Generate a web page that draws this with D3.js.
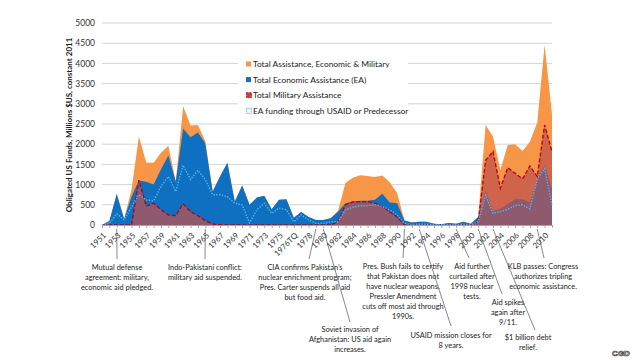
<!DOCTYPE html>
<html>
<head>
<meta charset="utf-8">
<script src="https://cdn.jsdelivr.net/npm/d3@7"></script>
<style>
  html, body { margin: 0; padding: 0; background: #fff; }
  svg { display: block; font-family: Lato, "Open Sans", sans-serif; }
</style>
</head>
<body>
<svg id="chart" width="640" height="360"></svg>
<script>
// fiscal years, incl. the 1976 transition quarter
const categories = [
  "1951","1952","1953","1954","1955","1956","1957","1958","1959","1960",
  "1961","1962","1963","1964","1965","1966","1967","1968","1969","1970",
  "1971","1972","1973","1974","1975","1976","1976TQ","1977","1978","1979",
  "1980","1981","1982","1983","1984","1985","1986","1987","1988","1989",
  "1990","1991","1992","1993","1994","1995","1996","1997","1998","1999",
  "2000","2001","2002","2003","2004","2005","2006","2007","2008","2009",
  "2010","2011"
];

// millions $US, constant 2011
const totalAssist = [
  0, 100, 770, 150, 870, 2190, 1550, 1540, 1790, 1960,
  1080, 2940, 2460, 2475, 2080, 830, 1200, 1540, 580, 980,
  500, 680, 725, 390, 625, 640, 180, 320, 200, 125,
  125, 170, 350, 1040, 1170, 1230, 1210, 1190, 1225, 1060,
  790, 110, 60, 80, 80, 30, 20, 50, 30, 80,
  30, 200, 2475, 2190, 1360, 1980, 2000, 1830, 2060, 2540,
  4455, 2750
];
const econAssist = [
  0, 100, 770, 150, 700, 1100, 1070, 1000, 1380, 1720,
  1070, 2390, 2170, 2290, 2020, 830, 1200, 1540, 580, 980,
  500, 680, 725, 390, 625, 640, 180, 320, 200, 125,
  125, 170, 330, 540, 580, 600, 600, 625, 775, 560,
  540, 110, 60, 80, 80, 30, 20, 50, 30, 80,
  30, 200, 850, 350, 400, 520, 640, 640, 560, 1150,
  1480, 900
];
const milAssist = [
  0, 0, 0, 0, 0, 1110, 470, 540, 380, 250,
  230, 525, 330, 230, 110, 25, 10, 0, 0, 0,
  0, 0, 0, 0, 0, 0, 0, 0, 0, 0,
  0, 0, 80, 500, 570, 580, 580, 540, 460, 330,
  200, 0, 0, 0, 0, 0, 0, 0, 0, 0,
  0, 80, 1600, 1820, 910, 1420, 1280, 1140, 1460, 1200,
  2475, 1815
];
const usaidEA = [
  0, 40, 280, 130, 450, 750, 620, 600, 960, 1200,
  830, 1480, 1125, 1350, 1125, 750, 750, 700, 540, 500,
  50, 375, 540, 290, 420, 375, 80, 250, 125, 40,
  40, 80, 80, 375, 440, 475, 480, 500, 460, 375,
  250, 40, 10, 20, 20, 10, 5, 10, 10, 20,
  10, 80, 740, 290, 330, 390, 480, 500, 400, 1140,
  1400, 500
];

const yTicks = [0, 500, 1000, 1500, 2000, 2500, 3000, 3500, 4000, 4500, 5000];
const seriesNames = [
  "Total Assistance, Economic & Military",
  "Total Economic Assistance (EA)",
  "Total Military Assistance",
  "EA funding through USAID or Predecessor"
];

// annotations: year pointed at, text lines
const notes = [
  { year: "1953", lines: ["Mutual defense", "agreement: military,", "economic aid pledged."] },
  { year: "1965", lines: ["Indo-Pakistani conflict:", "military aid suspended."] },
  { year: "1979", lines: ["CIA confirms Pakistan\u2019s", "nuclear enrichment program;", "Pres. Carter suspends all aid", "but food aid."] },
  { year: "1980", lines: ["Soviet invasion of", "Afghanistan: US aid again", "increases."] },
  { year: "1991", lines: ["Pres. Bush fails to certify", "that Pakistan does not", "have nuclear weapons.", "Pressler Amendment", "cuts off most aid through", "1990s."] },
  { year: "1993", lines: ["USAID mission closes for", "8 years."] },
  { year: "1998", lines: ["Aid further", "curtailed after", "1998 nuclear", "tests."] },
  { year: "2001", lines: ["Aid spikes", "again after", "9/11."] },
  { year: "2003", lines: ["$1 billion debt", "relief."] },
  { year: "2009", lines: ["KLB passes: Congress", "authorizes tripling", "economic assistance."] }
];
// where each note's text sits (centre x, first line y) and where its leader ends
const noteLayout = [
  { tx: 117, ty: 270, lx: 117, ly: 259 },
  { tx: 205, ty: 270, lx: 205, ly: 259 },
  { tx: 305, ty: 270, lx: 309, ly: 259 },
  { tx: 350, ty: 332, lx: 350, ly: 322 },
  { tx: 403, ty: 269, lx: 403, ly: 258 },
  { tx: 451, ty: 338, lx: 451, ly: 326 },
  { tx: 472, ty: 269, lx: 469, ly: 258 },
  { tx: 508, ty: 305, lx: 502, ly: 294 },
  { tx: 528, ty: 340, lx: 535, ly: 330 },
  { tx: 543, ty: 269, lx: 544, ly: 258 }
];

const svg = d3.select("#chart");

const x = d3.scalePoint().domain(categories).range([102, 552]);
const y = d3.scaleLinear().domain([0, 5000]).range([225, 23]);

// gridlines
svg.append("g")
  .selectAll("line")
  .data(yTicks.filter(d => d > 0))
  .join("line")
  .attr("x1", 102).attr("x2", 552)
  .attr("y1", d => y(d)).attr("y2", d => y(d))
  .attr("stroke", "#d4d4d4")
  .attr("stroke-width", 1);

// legend background hides the gridlines behind it
svg.append("rect")
  .attr("x", 238).attr("y", 51)
  .attr("width", 170).attr("height", 67)
  .attr("fill", "#fff");

function areaOf(values) {
  return d3.area()
    .x((d, i) => x(categories[i]))
    .y0(y(0))
    .y1(d => y(d))(values);
}
function lineOf(values) {
  return d3.line()
    .x((d, i) => x(categories[i]))
    .y(d => y(d))(values);
}

const plot = svg.append("g");
plot.append("path").attr("d", areaOf(totalAssist)).attr("fill", "#F79646");
plot.append("path").attr("d", areaOf(econAssist)).attr("fill", "#0F6FC0");
plot.append("path").attr("d", areaOf(milAssist)).attr("fill", "#C0504D").attr("fill-opacity", 0.72);
plot.append("path").attr("d", lineOf(milAssist))
  .attr("fill", "none")
  .attr("stroke", "#B00018")
  .attr("stroke-width", 1.3)
  .attr("stroke-dasharray", "4,2");
plot.append("path").attr("d", lineOf(usaidEA))
  .attr("fill", "none")
  .attr("stroke", "#4FB8EC")
  .attr("stroke-width", 1.4)
  .attr("stroke-dasharray", "1.4,1.4");

// x axis
const xAxis = svg.append("g")
  .attr("transform", `translate(0,${y(0)})`)
  .call(d3.axisBottom(x).tickSize(3).tickFormat((d, i) => i % 2 === 0 ? d : ""));
xAxis.select(".domain").attr("stroke", "#a6a6a6");
xAxis.selectAll(".tick line").attr("stroke", "#a6a6a6");
xAxis.selectAll("text")
  .attr("x", 0).attr("y", 0).attr("dy", "0.35em")
  .attr("text-anchor", "end")
  .attr("transform", "translate(2,9) rotate(-45)")
  .attr("font-size", "8px")
  .attr("font-family", "Lato, sans-serif")
  .attr("fill", "#333");

// y axis
const yAxis = svg.append("g")
  .attr("transform", "translate(102,0)")
  .call(d3.axisLeft(y).tickValues(yTicks).tickFormat(d3.format("d")).tickSize(0).tickPadding(7));
yAxis.select(".domain").remove();
yAxis.selectAll("text")
  .attr("font-size", "8.5px")
  .attr("font-family", "Lato, sans-serif")
  .attr("fill", "#333");

svg.append("text")
  .attr("transform", "translate(72,125) rotate(-90)")
  .attr("text-anchor", "middle")
  .attr("font-size", "8px")
  .attr("font-weight", "bold")
  .attr("fill", "#222")
  .text("Obligated US Funds, Millions $US, constant 2011");

// legend
const legend = svg.append("g").attr("transform", "translate(246,64)");
const legendRows = legend.selectAll("g")
  .data(seriesNames)
  .join("g")
  .attr("transform", (d, i) => `translate(0,${i * 15.6})`);
legendRows.append("text")
  .attr("x", 7).attr("dy", "0.35em")
  .attr("font-size", "8.4px")
  .attr("fill", "#222")
  .text(d => d);
legendRows.filter((d, i) => i === 0).append("rect")
  .attr("x", 0).attr("y", -2.5).attr("width", 5).attr("height", 5).attr("fill", "#F79646");
legendRows.filter((d, i) => i === 1).append("rect")
  .attr("x", 0).attr("y", -2.5).attr("width", 5).attr("height", 5).attr("fill", "#0F6FC0");
legendRows.filter((d, i) => i === 2).append("rect")
  .attr("x", 0.5).attr("y", -2.5).attr("width", 5).attr("height", 5)
  .attr("fill", "#D0403D").attr("stroke", "#B00018").attr("stroke-width", 0.8).attr("stroke-dasharray", "2,1");
legendRows.filter((d, i) => i === 3).append("rect")
  .attr("x", 0.5).attr("y", -2.5).attr("width", 5).attr("height", 5)
  .attr("fill", "none").attr("stroke", "#4FB8EC").attr("stroke-width", 1.2).attr("stroke-dasharray", "1,1");

// annotations
const noteG = svg.append("g");
notes.forEach((n, i) => {
  const L = noteLayout[i];
  noteG.append("line")
    .attr("x1", x(n.year)).attr("y1", 229)
    .attr("x2", L.lx).attr("y2", L.ly)
    .attr("stroke", "#555")
    .attr("stroke-width", 0.7);
  noteG.append("text")
    .attr("text-anchor", "middle")
    .attr("font-size", "7.4px")
    .attr("fill", "#222")
    .selectAll("tspan")
    .data(n.lines)
    .join("tspan")
    .attr("x", L.tx)
    .attr("y", (d, j) => L.ty + j * 10)
    .text(d => d);
});

// CGD mark
svg.append("text")
  .attr("x", 621).attr("y", 356)
  .attr("text-anchor", "middle")
  .attr("font-size", "8px")
  .attr("font-weight", "bold")
  .attr("font-family", "\"Liberation Sans\", Arial, sans-serif")
  .attr("fill", "#fff")
  .attr("stroke", "#444")
  .attr("stroke-width", 0.7)
  .text("CGD");
</script>
</body>
</html>
